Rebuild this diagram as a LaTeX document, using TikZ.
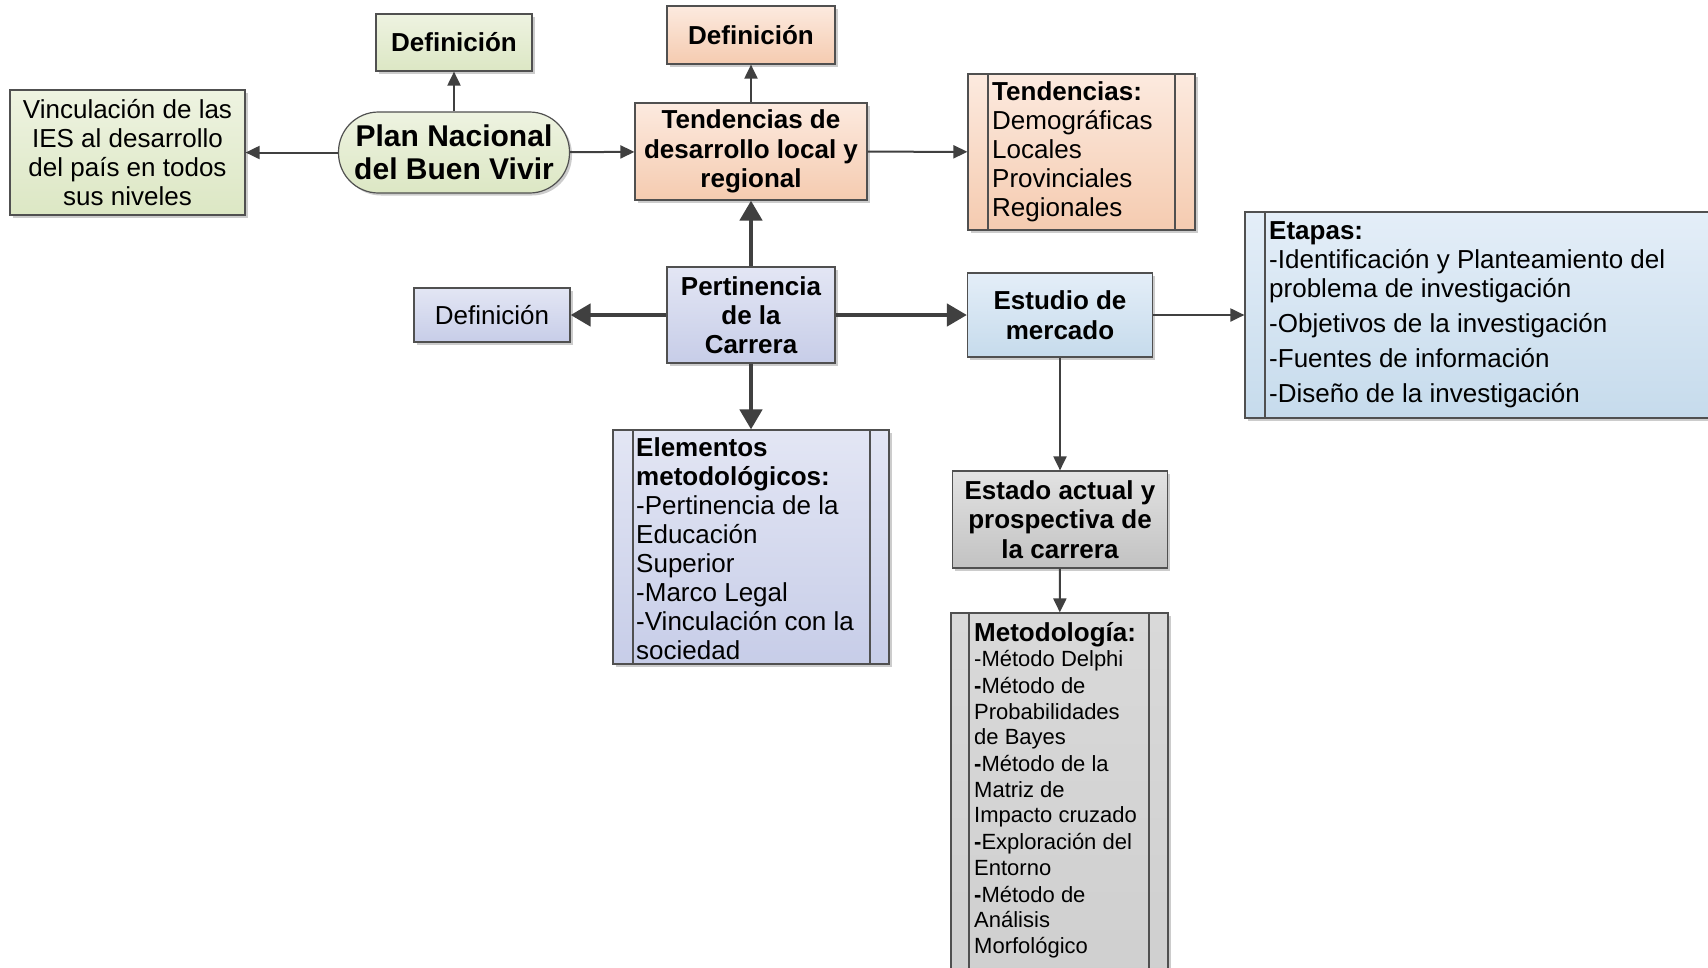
\documentclass[tikz,border=0pt]{standalone}
\usepackage{fontspec}
\setmainfont{Liberation Sans}
\usetikzlibrary{arrows.meta,shadows}
\definecolor{bordc}{HTML}{505050}
\definecolor{arrc}{HTML}{404040}
\definecolor{gtop}{HTML}{EEF3E1}
\definecolor{gbot}{HTML}{DCE7C4}
\definecolor{otop}{HTML}{FCEADF}
\definecolor{obot}{HTML}{F5CBB0}
\definecolor{ltop}{HTML}{E3E6F4}
\definecolor{lbot}{HTML}{C7CDE8}
\definecolor{btop}{HTML}{E4EEF8}
\definecolor{bbot}{HTML}{C6DBEC}
\definecolor{ytop}{HTML}{E2E2E2}
\definecolor{ybot}{HTML}{C2C2C2}
\definecolor{mtop}{HTML}{D9D9D9}
\definecolor{mbot}{HTML}{CFCFCF}
\newcommand\myfs[2]{\fontsize{#1}{#2}\selectfont}
\tikzset{
  box/.style={draw=bordc, line width=1.2pt, inner sep=0pt, align=center,
    font=\myfs{26pt}{29pt},
    drop shadow={shadow xshift=2.5pt, shadow yshift=-2.5pt, fill=black, opacity=0.2}},
  gbox/.style={box, top color=gtop, bottom color=gbot},
  obox/.style={box, top color=otop, bottom color=obot},
  lbox/.style={box, top color=ltop, bottom color=lbot},
  bbox/.style={box, top color=btop, bottom color=bbot},
  ybox/.style={box, top color=ytop, bottom color=ybot},
  mbox/.style={box, top color=mtop, bottom color=mbot},
  txt/.style={inner sep=0pt, align=left, anchor=north west, font=\myfs{26pt}{29pt}},
  inl/.style={draw=bordc, line width=1.2pt},
  thin/.style={draw=arrc, line width=2pt, -{Triangle[length=14pt,width=13pt]}},
  thick/.style={draw=arrc, line width=4.5pt, -{Triangle[length=20pt,width=22pt]}}
}
\begin{document}
\begin{tikzpicture}[x=1pt,y=-1pt]
\useasboundingbox (0,0) rectangle (1708,967);
\fill[white] (0,0) rectangle (1708,967);

% green group
\node[gbox, minimum width=156pt, minimum height=57pt] (defg) at (454,42.5) {\bfseries Definición};
\node[gbox, minimum width=235pt, minimum height=125pt] (vinc) at (127.5,152.5)
  {Vinculación de las\\IES al desarrollo\\del país en todos\\sus niveles};
\node[gbox, minimum width=231pt, minimum height=81pt, rounded corners=40pt,
  font=\myfs{30pt}{33.5pt}\bfseries] (plan) at (454,152.5) {Plan Nacional\\del Buen Vivir};

% orange group
\node[obox, minimum width=168pt, minimum height=58pt] (defo) at (751,35) {\bfseries Definición};
\node[obox, minimum width=232pt, minimum height=97pt, font=\myfs{26pt}{29.5pt}\bfseries] (tend) at (751,151.5)
  {Tendencias de\\desarrollo local y\\regional};
\node[obox, minimum width=227pt, minimum height=156pt] (tlist) at (1081.5,152) {};
\draw[inl] (988,74) -- (988,230);
\draw[inl] (1175,74) -- (1175,230);
\node[txt] (tlisttxt) at (992,81.5)
  {\textbf{Tendencias:}\\Demográficas\\Locales\\Provinciales\\Regionales};

% lavender group
\node[lbox, minimum width=168pt, minimum height=96pt, font=\myfs{26pt}{29pt}\bfseries] (pert) at (751,315)
  {Pertinencia\\de la\\Carrera};
\node[lbox, minimum width=156pt, minimum height=54pt] (defb) at (492,315) {Definición};
\node[lbox, minimum width=276pt, minimum height=234pt] (elem) at (751,547) {};
\draw[inl] (633,430) -- (633,664);
\draw[inl] (870,430) -- (870,664);
\node[txt] (elemtxt) at (636,437)
  {\textbf{Elementos}\\\textbf{metodológicos:}\\-Pertinencia de la\\Educación\\Superior\\-Marco Legal\\-Vinculación con la\\sociedad};

% blue group
\node[bbox, minimum width=185pt, minimum height=84pt, font=\myfs{26pt}{29.5pt}\bfseries] (estu) at (1060,315)
  {Estudio de\\mercado};
\node[bbox, minimum width=480pt, minimum height=206pt] (etap) at (1485,315) {};
\draw[inl] (1265,212) -- (1265,418);
\node[txt] (etaptxt) at (1269,221)
  {\textbf{Etapas:}\\-Identificación y Planteamiento del\\problema de investigación\\[6pt]-Objetivos de la investigación\\[6pt]-Fuentes de información\\[6pt]-Diseño de la investigación};

% gray group
\node[ybox, minimum width=215pt, minimum height=97pt, font=\myfs{26pt}{29.5pt}\bfseries] (esta) at (1060,519.5)
  {Estado actual y\\prospectiva de\\la carrera};
\node[mbox, minimum width=217pt, minimum height=372pt] (meto) at (1059.5,799) {};
\draw[inl] (969,613) -- (969,985);
\draw[inl] (1149,613) -- (1149,985);
\node[txt, font=\myfs{22pt}{25.5pt}] (metotxt) at (974,622)
  {{\myfs{26pt}{27pt}\bfseries Metodología:}\\-Método Delphi\\[1.5pt]\textbf{-}Método de\\Probabilidades\\de Bayes\\[1.5pt]\textbf{-}Método de la\\Matriz de\\Impacto cruzado\\[1.5pt]\textbf{-}Exploración del\\Entorno\\[1.5pt]\textbf{-}Método de\\Análisis\\Morfológico};

% connectors
\draw[thin] (plan) -- (defg);
\draw[thin] (plan) -- (vinc);
\draw[thin] (plan) -- (tend);
\draw[thin] (tend) -- (defo);
\draw[thin] (tend) -- (tlist);
\draw[thick] (pert) -- (tend);
\draw[thick] (pert) -- (defb);
\draw[thick] (pert) -- (estu);
\draw[thick] (pert) -- (elem);
\draw[thin] (estu.east) -- (estu.east -| etap.west);
\draw[thin] (estu) -- (esta);
\draw[thin] (esta) -- (meto);
\end{tikzpicture}
\end{document}
